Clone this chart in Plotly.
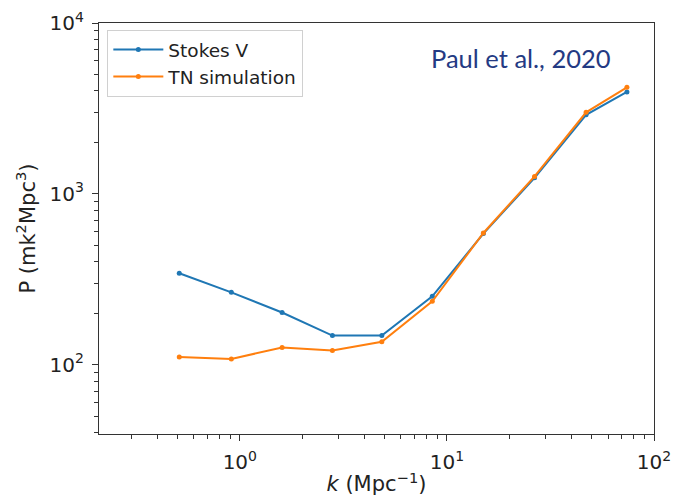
import plotly.graph_objects as go

# Power spectrum bins (k in Mpc^-1) and P in mK^2 Mpc^3
k_values = [0.51, 0.91, 1.60, 2.80, 4.85, 8.5, 15.0, 26.5, 47.0, 74.0]
stokes_v = [343, 265, 202, 148, 148, 251, 585, 1240, 2900, 3950]
tn_sim = [111, 108, 126, 121, 136, 235, 590, 1265, 3000, 4200]

series_names = ["Stokes V", "TN simulation"]
series_colors = ["#1f77b4", "#ff7f0e"]

x_tickvals = [1, 10, 100]
x_ticktext = ["10<sup>0</sup>", "10<sup>1</sup>", "10<sup>2</sup>"]
y_tickvals = [100, 1000, 10000]
y_ticktext = ["10<sup>2</sup>", "10<sup>3</sup>", "10<sup>4</sup>"]

# minor ticks at 2..9 of every decade
x_minor = [m * 10 ** e for e in (-1, 0, 1) for m in range(2, 10)]
y_minor = [m * 10 ** e for e in (1, 2, 3) for m in range(2, 10)]

fig = go.Figure()
for name, vals, color in zip(series_names, [stokes_v, tn_sim], series_colors):
    fig.add_trace(go.Scatter(
        x=k_values, y=vals, name=name, mode="lines+markers",
        line=dict(color=color, width=2),
        marker=dict(color=color, size=5),
    ))

axis_common = dict(
    type="log", showgrid=False, zeroline=False, automargin=False,
    showline=True, linecolor="#333333", linewidth=1.3, mirror=True,
    ticks="outside", ticklen=6, tickwidth=1.2, tickcolor="#333333",
    tickfont=dict(family="DejaVu Sans", size=20, color="#222222"),
    ticklabelstandoff=4,
)

fig.update_xaxes(
    range=[-0.68, 2.0], tickvals=x_tickvals, ticktext=x_ticktext,
    minor=dict(tickvals=x_minor, ticks="outside", ticklen=3.5, tickwidth=0.9,
               tickcolor="#333333", showgrid=False),
    title=dict(text="<i>k</i> (Mpc<sup>−1</sup>)", font=dict(family="DejaVu Sans", size=21, color="#222222"), standoff=3),
    **axis_common,
)
fig.update_yaxes(
    range=[1.594, 4.0], tickvals=y_tickvals, ticktext=y_ticktext,
    minor=dict(tickvals=y_minor, ticks="outside", ticklen=3.5, tickwidth=0.9,
               tickcolor="#333333", showgrid=False),
    title=dict(text="P (mk<sup>2</sup>Mpc<sup>3</sup>)", font=dict(family="DejaVu Sans", size=21, color="#222222"), standoff=8),
    **axis_common,
)

fig.add_annotation(
    x=0.926, y=0.915, xref="paper", yref="paper", xanchor="right", yanchor="middle",
    text="Paul et al., 2020", showarrow=False,
    font=dict(family="Lato", size=25.5, color="#243a83"),
)

fig.update_layout(
    width=677, height=498,
    margin=dict(l=99, r=23, t=23, b=64),
    paper_bgcolor="white", plot_bgcolor="white",
    showlegend=True,
    legend=dict(
        x=0.015, y=0.983, xanchor="left", yanchor="top",
        bgcolor="rgba(255,255,255,0.9)", bordercolor="#d0d0d0", borderwidth=1,
        font=dict(family="DejaVu Sans", size=18.5, color="#222222"),
        itemwidth=50, tracegroupgap=2,
    ),
)

fig.write_html("out.html")
